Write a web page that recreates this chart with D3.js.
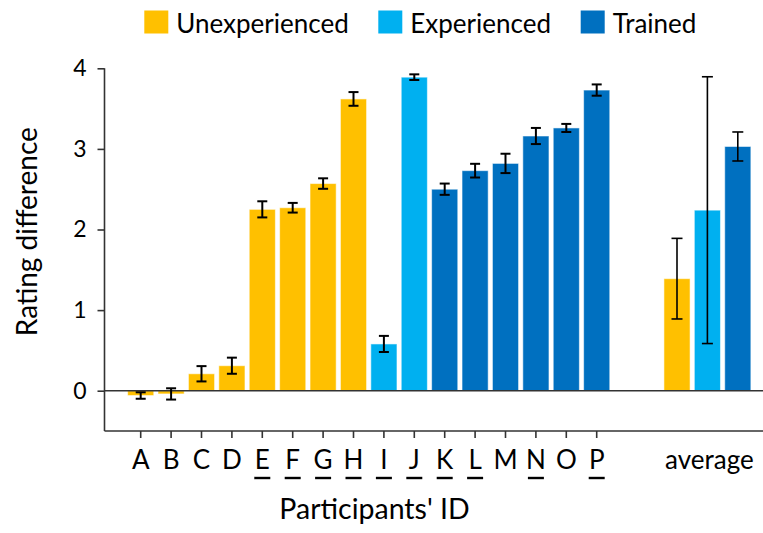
<!DOCTYPE html>
<html>
<head>
<meta charset="utf-8">
<script src="https://cdn.jsdelivr.net/npm/d3@7"></script>
<style>
  html, body { margin: 0; padding: 0; background: #fff; }
  svg { display: block; }
  text { font-family: Lato, "Open Sans", sans-serif; fill: #000; }
</style>
</head>
<body>
<svg id="chart" width="763" height="533"></svg>
<script>
// Participants and their groups
const participants = ["A","B","C","D","E","F","G","H","I","J","K","L","M","N","O","P"];
const participantGroups = [
  "Unexperienced","Unexperienced","Unexperienced","Unexperienced",
  "Unexperienced","Unexperienced","Unexperienced","Unexperienced",
  "Experienced","Experienced",
  "Trained","Trained","Trained","Trained","Trained","Trained"
];
// Mean rating difference per participant and its error
const ratingDiff = [-0.06, -0.04, 0.21, 0.31, 2.25, 2.27, 2.57, 3.62, 0.58, 3.89, 2.50, 2.73, 2.82, 3.16, 3.26, 3.73];
const ratingErr  = [0.04, 0.07, 0.095, 0.10, 0.10, 0.06, 0.065, 0.085, 0.10, 0.035, 0.07, 0.085, 0.12, 0.10, 0.05, 0.07];
// IDs shown underlined on the axis
const underlinedIds = ["E","F","G","H","I","J","K","L","N","P"];

// Group averages
const groupNames = ["Unexperienced","Experienced","Trained"];
const groupAverage = [1.39, 2.24, 3.03];
const groupAvgErr  = [0.50, 1.655, 0.18];

const yTicks = [0, 1, 2, 3, 4];
const avgLabel = "average";
const xTitle = "Participants' ID";
const yTitle = "Rating difference";

const groupColors = ["#FFC000", "#00B0F0", "#0070C0"];

const svg = d3.select("#chart");

const color = d3.scaleOrdinal().domain(groupNames).range(groupColors);

const y = d3.scaleLinear().domain([-0.5, 4]).range([431, 68.3]);

const x = d3.scaleBand().domain(participants)
  .range([125.5, 611.9]).paddingInner(0.14).paddingOuter(0.07);

const xAvg = d3.scaleBand().domain(groupNames)
  .range([661.8, 753]).paddingInner(0.14).paddingOuter(0.07);

const axisLeft = 104.5;
const axisColor = "#333";

// Participant bars
const pData = participants.map((id, i) => ({ id, group: participantGroups[i], v: ratingDiff[i], e: ratingErr[i] }));
svg.append("g").selectAll("rect").data(pData).join("rect")
  .attr("x", d => x(d.id))
  .attr("width", x.bandwidth())
  .attr("y", d => Math.min(y(d.v), y(0)))
  .attr("height", d => Math.abs(y(d.v) - y(0)))
  .attr("fill", d => color(d.group))
  .attr("stroke", "rgba(255,255,255,0.55)")
  .attr("stroke-width", 1);

// Average bars
const aData = groupNames.map((g, i) => ({ g, v: groupAverage[i], e: groupAvgErr[i] }));
svg.append("g").selectAll("rect").data(aData).join("rect")
  .attr("x", d => xAvg(d.g))
  .attr("width", xAvg.bandwidth())
  .attr("y", d => Math.min(y(d.v), y(0)))
  .attr("height", d => Math.abs(y(d.v) - y(0)))
  .attr("fill", d => color(d.g))
  .attr("stroke", "rgba(255,255,255,0.55)")
  .attr("stroke-width", 1);

// Zero line across the plot
svg.append("line")
  .attr("x1", axisLeft).attr("x2", 763)
  .attr("y1", y(0)).attr("y2", y(0))
  .attr("stroke", axisColor).attr("stroke-width", 1.6);

// Error bars
function errorBars(data, cx, capW, sw) {
  const g = svg.append("g").attr("stroke", "#000").attr("stroke-width", sw).attr("fill", "none");
  data.forEach(d => {
    const hi = y(d.v + d.e), lo = y(d.v - d.e);
    g.append("line").attr("x1", cx(d)).attr("x2", cx(d)).attr("y1", hi).attr("y2", lo);
    g.append("line").attr("x1", cx(d) - capW / 2).attr("x2", cx(d) + capW / 2).attr("y1", hi).attr("y2", hi);
    g.append("line").attr("x1", cx(d) - capW / 2).attr("x2", cx(d) + capW / 2).attr("y1", lo).attr("y2", lo);
  });
}
errorBars(pData, d => x(d.id) + x.bandwidth() / 2, 10, 2);
errorBars(aData, d => xAvg(d.g) + xAvg.bandwidth() / 2, 11, 1.6);

// Y axis
const yAxis = svg.append("g")
  .attr("transform", `translate(${axisLeft},0)`)
  .call(d3.axisLeft(y).tickValues(yTicks).tickSize(7).tickPadding(11).tickFormat(d3.format("d")));
yAxis.select(".domain").attr("d", `M0,${y(4)}V${y(-0.5)}`).attr("stroke", axisColor).attr("stroke-width", 1.6);
yAxis.selectAll(".tick line").attr("stroke", axisColor).attr("stroke-width", 1.6);
yAxis.selectAll(".tick text").attr("font-size", 23).attr("font-family", "Lato, sans-serif").attr("fill", "#000");

// Bottom axis line
svg.append("line")
  .attr("x1", axisLeft).attr("x2", 763)
  .attr("y1", y(-0.5)).attr("y2", y(-0.5))
  .attr("stroke", axisColor).attr("stroke-width", 1.6);

// X axis ticks and labels
const xAxis = svg.append("g")
  .attr("transform", `translate(0,${y(-0.5)})`)
  .call(d3.axisBottom(x).tickSize(7).tickPadding(14));
xAxis.select(".domain").remove();
xAxis.selectAll(".tick line").attr("stroke", axisColor).attr("stroke-width", 1.6);
xAxis.selectAll(".tick text")
  .attr("font-size", 26).attr("font-family", "Lato, sans-serif").attr("fill", "#000")
  .attr("dy", null).attr("y", 38);

// Underlines beneath selected IDs
svg.append("g").selectAll("line")
  .data(participants.filter(p => underlinedIds.includes(p)))
  .join("line")
  .attr("x1", d => x(d) + x.bandwidth() / 2 - 8)
  .attr("x2", d => x(d) + x.bandwidth() / 2 + 8)
  .attr("y1", 478).attr("y2", 478)
  .attr("stroke", "#000").attr("stroke-width", 2.4);

// "average" label under the group bars
svg.append("text")
  .attr("x", (xAvg.range()[0] + xAvg.range()[1]) / 2 + 2)
  .attr("y", 469)
  .attr("text-anchor", "middle")
  .attr("font-size", 26)
  .text(avgLabel);

// Axis titles
svg.append("text")
  .attr("x", 374.5).attr("y", 519)
  .attr("text-anchor", "middle")
  .attr("font-size", 28.5)
  .text(xTitle);

svg.append("text")
  .attr("transform", `translate(37,231.7) rotate(-90)`)
  .attr("text-anchor", "middle")
  .attr("font-size", 28)
  .text(yTitle);

// Legend
const legendX = [144.3, 378.3, 580.7];
const legend = svg.append("g").selectAll("g").data(groupNames).join("g")
  .attr("transform", (d, i) => `translate(${legendX[i]},0)`);
legend.append("rect")
  .attr("x", 0).attr("y", 10.5).attr("width", 24).attr("height", 23)
  .attr("fill", d => color(d));
legend.append("text")
  .attr("x", 32).attr("y", 32.5)
  .attr("font-size", 26)
  .text(d => d);
</script>
</body>
</html>
